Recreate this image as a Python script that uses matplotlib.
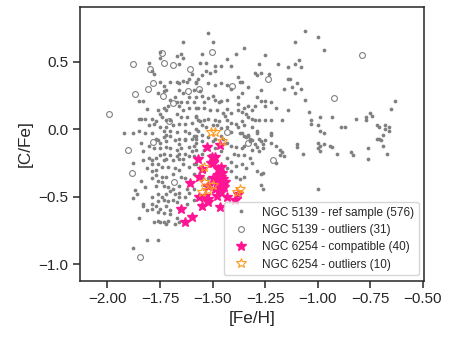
import matplotlib
matplotlib.use("Agg")
import matplotlib.pyplot as plt

plt.rcParams['font.family'] = ['Liberation Sans', 'DejaVu Sans']

# ---------------- data ----------------
ref_sample = [
    (-1.64,0.65),(-1.75,0.57),(-1.67,0.54),(-1.65,0.56),(-1.64,0.53),(-1.80,0.49),(-1.78,0.41),(-1.79,0.43),
    (-1.75,0.53),(-1.66,0.48),(-1.60,0.41),(-1.61,0.37),(-1.58,0.35),(-1.62,0.35),(-1.64,0.36),(-1.66,0.34),
    (-1.67,0.35),(-1.70,0.35),(-1.75,0.35),(-1.73,0.32),(-1.72,0.29),(-1.76,0.27),(-1.73,0.28),(-1.66,0.29),
    (-1.64,0.27),(-1.59,0.29),(-1.58,0.24),(-1.61,0.24),(-1.68,0.24),(-1.70,0.22),(-1.67,0.20),(-1.62,0.20),
    (-1.65,0.20),(-1.59,0.20),(-1.58,0.16),(-1.61,0.16),(-1.64,0.14),(-1.66,0.17),(-1.71,0.17),(-1.73,0.16),
    (-1.72,0.14),(-1.76,0.14),(-1.75,0.11),(-1.81,0.15),(-1.83,0.21),(-1.85,0.21),(-1.85,0.08),(-1.84,0.08),
    (-1.82,0.08),(-1.79,0.08),(-1.77,0.06),(-1.74,0.09),(-1.72,0.07),(-1.70,0.07),(-1.67,0.11),(-1.65,0.09),
    (-1.62,0.09),(-1.58,0.10),(-1.57,0.07),(-1.60,0.05),(-1.63,0.04),(-1.66,0.04),(-1.69,0.03),(-1.72,0.02),
    (-1.75,0.02),(-1.78,0.04),(-1.80,0.03),(-1.85,-0.01),(-1.92,-0.03),(-1.88,-0.03),(-1.82,-0.03),(-1.79,-0.03),
    (-1.73,-0.01),(-1.70,-0.01),(-1.67,-0.02),(-1.63,-0.01),(-1.61,-0.03),(-1.58,0.00),(-1.59,-0.05),(-1.63,-0.07),
    (-1.66,-0.07),(-1.70,-0.05),(-1.73,-0.06),(-1.77,-0.07),(-1.72,-0.04),
    (-1.52,0.71),(-1.06,0.73),(-1.50,0.65),(-1.11,0.65),(-1.35,0.60),(-1.39,0.56),(-1.55,0.56),(-1.25,0.55),
    (-1.43,0.52),(-1.56,0.49),(-1.53,0.49),(-1.46,0.47),(-1.49,0.47),(-1.41,0.47),(-1.28,0.48),(-1.19,0.48),
    (-1.14,0.46),(-1.11,0.48),(-1.09,0.51),(-1.08,0.46),(-1.53,0.43),(-1.51,0.42),(-1.49,0.43),(-1.38,0.39),
    (-1.37,0.35),(-1.36,0.35),(-1.30,0.42),(-1.29,0.40),(-1.27,0.42),(-1.23,0.41),(-1.14,0.37),(-1.13,0.37),
    (-1.10,0.34),(-1.55,0.40),(-1.57,0.37),(-1.58,0.34),(-1.52,0.34),(-1.49,0.33),(-1.46,0.34),(-1.43,0.33),
    (-1.41,0.30),(-1.16,0.30),(-1.12,0.31),(-1.08,0.30),(-1.11,0.27),(-1.27,0.29),(-1.29,0.24),(-1.27,0.21),
    (-1.25,0.21),(-1.33,0.31),(-1.36,0.27),(-1.38,0.24),(-1.56,0.28),(-1.55,0.25),(-1.50,0.25),(-1.52,0.23),
    (-1.49,0.22),(-1.54,0.20),(-1.47,0.20),(-1.46,0.21),(-1.43,0.22),(-1.38,0.19),(-1.35,0.16),(-1.33,0.17),
    (-1.31,0.14),(-1.30,0.17),(-1.22,0.20),(-1.20,0.16),(-1.14,0.14),(-1.06,0.22),(-1.04,0.13),(-1.25,0.17),
    (-1.54,0.16),(-1.57,0.16),(-1.51,0.14),(-1.48,0.14),(-1.45,0.12),(-1.43,0.15),(-1.41,0.12),(-1.38,0.14),
    (-1.36,0.13),(-1.34,0.11),(-1.33,0.09),(-1.31,0.08),(-1.30,0.07),(-1.28,0.07),(-1.25,0.07),(-1.22,0.07),
    (-1.17,0.07),(-1.03,0.07),(-1.03,0.04),(-1.58,0.09),(-1.56,0.06),(-1.54,0.07),(-1.52,0.08),(-1.49,0.07),
    (-1.47,0.06),(-1.44,0.10),(-1.43,0.07),(-1.41,0.05),(-1.39,0.04),(-1.36,0.06),(-1.35,0.03),(-1.31,0.02),
    (-1.29,-0.01),(-1.33,-0.04),(-1.36,-0.03),(-1.55,0.03),(-1.53,0.02),(-1.57,-0.01),(-1.50,0.03),(-1.48,0.03),
    (-1.46,0.01),(-1.43,0.02),(-1.41,-0.02),(-1.38,0.02),(-1.22,-0.03),(-1.58,-0.05),(-1.55,-0.04),(-1.46,-0.05),
    (-1.00,0.68),(-0.97,0.59),(-0.63,0.21),(-0.65,0.15),(-0.75,0.12),(-0.74,0.10),(-0.77,0.09),(-0.77,0.07),
    (-0.82,0.08),(-0.93,0.09),(-0.99,0.09),
    (-1.00,0.03),(-0.99,-0.01),(-0.97,-0.03),(-0.89,0.02),(-0.87,0.02),(-0.72,0.03),(-0.71,0.02),(-0.68,0.03),
    (-0.68,0.00),(-0.66,0.02),(-0.66,-0.01),(-0.69,-0.04),(-0.72,-0.07),(-0.71,-0.07),(-0.70,-0.08),(-1.00,-0.10),
    (-0.99,-0.12),(-0.97,-0.11),(-1.00,-0.14),(-0.99,-0.16),(-0.94,-0.12),(-0.93,-0.13),(-0.91,-0.18),(-0.84,-0.17),
    (-0.83,-0.19),(-0.76,-0.14),(-0.76,-0.22),(-0.69,-0.12),(-0.67,-0.18),(-1.00,-0.44),
    (-1.84,-0.10),(-1.80,-0.12),(-1.76,-0.08),(-1.75,-0.10),(-1.72,-0.09),(-1.68,-0.08),(-1.66,-0.11),(-1.63,-0.08),
    (-1.60,-0.07),(-1.58,-0.10),(-1.59,-0.12),(-1.61,-0.13),(-1.65,-0.14),(-1.67,-0.15),(-1.70,-0.14),(-1.72,-0.13),
    (-1.75,-0.14),(-1.78,-0.14),(-1.83,-0.16),(-1.73,-0.18),(-1.70,-0.19),(-1.67,-0.20),(-1.66,-0.18),(-1.63,-0.18),
    (-1.60,-0.16),(-1.58,-0.15),(-1.88,-0.25),(-1.83,-0.23),(-1.80,-0.21),(-1.79,-0.23),(-1.77,-0.21),(-1.75,-0.19),
    (-1.79,-0.26),(-1.76,-0.26),(-1.73,-0.23),(-1.72,-0.22),(-1.69,-0.23),(-1.66,-0.22),(-1.64,-0.22),(-1.61,-0.20),
    (-1.59,-0.20),(-1.64,-0.26),(-1.61,-0.28),(-1.59,-0.26),(-1.81,-0.29),(-1.79,-0.31),(-1.77,-0.30),(-1.74,-0.28),
    (-1.71,-0.28),(-1.68,-0.29),(-1.66,-0.30),(-1.77,-0.34),(-1.79,-0.36),(-1.74,-0.35),(-1.72,-0.35),(-1.69,-0.33),
    (-1.74,-0.39),(-1.76,-0.38),(-1.77,-0.42),(-1.73,-0.42),(-1.71,-0.43),(-1.69,-0.44),(-1.66,-0.42),(-1.65,-0.35),
    (-1.63,-0.36),(-1.59,-0.33),(-1.82,-0.43),(-1.84,-0.38),(-1.87,-0.45),(-1.86,-0.48),(-1.88,-0.51),(-1.83,-0.55),
    (-1.83,-0.57),(-1.79,-0.50),(-1.76,-0.48),(-1.74,-0.50),(-1.72,-0.48),(-1.70,-0.46),(-1.68,-0.48),(-1.66,-0.47),
    (-1.66,-0.50),(-1.63,-0.50),(-1.61,-0.47),(-1.59,-0.44),(-1.62,-0.44),(-1.76,-0.53),(-1.73,-0.52),(-1.71,-0.53),
    (-1.69,-0.52),(-1.67,-0.54),(-1.79,-0.55),(-1.77,-0.57),(-1.75,-0.59),(-1.72,-0.57),(-1.70,-0.60),(-1.73,-0.62),
    (-1.76,-0.61),(-1.79,-0.59),(-1.81,-0.60),(-1.66,-0.59),(-1.62,-0.55),(-1.59,-0.52),(-1.78,-0.69),(-1.76,-0.68),
    (-1.75,-0.69),(-1.73,-0.69),(-1.72,-0.70),(-1.71,-0.68),(-1.68,-0.70),(-1.66,-0.69),(-1.67,-0.66),(-1.70,-0.63),
    (-1.85,-0.66),(-1.81,-0.82),(-1.76,-0.82),(-1.88,-0.88),
    (-1.58,-0.07),(-1.55,-0.09),(-1.52,-0.06),(-1.50,-0.09),(-1.49,-0.07),(-1.45,-0.07),(-1.43,-0.10),(-1.41,-0.12),
    (-1.39,-0.13),(-1.36,-0.14),(-1.35,-0.12),(-1.32,-0.09),(-1.30,-0.11),(-1.27,-0.09),(-1.25,-0.08),(-1.22,-0.10),
    (-1.20,-0.12),(-1.31,-0.15),(-1.28,-0.16),(-1.26,-0.14),(-1.40,-0.18),(-1.38,-0.19),(-1.35,-0.19),(-1.32,-0.21),
    (-1.43,-0.21),(-1.41,-0.24),(-1.39,-0.27),(-1.36,-0.26),(-1.34,-0.29),(-1.31,-0.25),(-1.29,-0.31),(-1.27,-0.33),
    (-1.26,-0.32),(-1.35,-0.35),(-1.37,-0.37),(-1.39,-0.35),(-1.41,-0.31),(-1.43,-0.29),(-1.27,-0.41),(-1.26,-0.44),
    (-1.49,-0.14),(-1.46,-0.16),(-1.54,-0.15),(-1.51,-0.19),(-1.55,-0.18),(-1.57,-0.21),(-1.58,-0.26),(-1.56,-0.28),
    (-1.54,-0.31),(-1.55,-0.35),(-1.52,-0.36),(-1.54,-0.41),
    (-1.37,-0.03),(-1.35,-0.05),(-1.34,-0.06),(-1.33,-0.05),(-1.32,-0.07),(-1.31,-0.08),(-1.29,-0.03),(-1.28,-0.07),
    (-1.29,-0.13),(-1.26,-0.11),(-1.22,-0.04),(-1.20,-0.25),(-1.18,-0.19),(-1.17,-0.17),(-1.16,-0.20),(-1.18,-0.15),
    (-1.10,-0.11),(-1.10,-0.13),(-1.07,-0.18),
]
ref_outliers = [
    (-1.880,0.483),(-1.742,0.567),(-1.731,0.488),(-1.689,0.478),(-1.607,0.449),(-1.797,0.449),(-1.785,0.345),
    (-1.870,0.261),(-1.805,0.296),(-1.737,0.247),(-1.617,0.286),(-1.564,0.302),(-1.686,0.192),(-1.992,0.111),
    (-1.708,0.062),(-1.504,0.573),(-1.407,0.320),(-1.234,0.370),(-1.431,-0.022),(-0.789,0.547),(-0.922,0.232),
    (-1.903,-0.150),(-1.884,-0.326),(-1.781,-0.092),(-1.684,-0.392),(-1.843,-0.948),(-1.329,-0.103),(-1.212,-0.229),
]
ngc6254_compatible = [
    (-1.528,-0.128),(-1.465,-0.116),(-1.571,-0.222),(-1.504,-0.207),(-1.488,-0.207),(-1.507,-0.251),(-1.496,-0.246),
    (-1.549,-0.295),(-1.472,-0.295),(-1.564,-0.355),(-1.607,-0.399),(-1.472,-0.337),(-1.460,-0.350),(-1.449,-0.369),
    (-1.465,-0.387),(-1.480,-0.394),(-1.453,-0.404),(-1.469,-0.424),(-1.488,-0.443),(-1.444,-0.424),(-1.460,-0.461),
    (-1.520,-0.419),(-1.564,-0.502),(-1.536,-0.493),(-1.523,-0.517),(-1.480,-0.493),(-1.433,-0.502),(-1.393,-0.527),
    (-1.381,-0.478),(-1.549,-0.566),(-1.520,-0.542),(-1.465,-0.576),(-1.650,-0.591),(-1.596,-0.650),(-1.631,-0.690),
    (-1.476,-0.369),(-1.457,-0.320),(-1.441,-0.387),(-1.496,-0.362),(-1.460,-0.276),
]
ngc6254_outliers = [
    (-1.507,-0.017),(-1.488,-0.017),(-1.453,-0.084),(-1.539,-0.276),(-1.539,-0.387),
    (-1.552,-0.468),(-1.523,-0.453),(-1.496,-0.411),(-1.369,-0.443),(-1.385,-0.468),
]
labels = ["NGC 5139 - ref sample (576)", "NGC 5139 - outliers (31)",
          "NGC 6254 - compatible (40)", "NGC 6254 - outliers (10)"]
xticks = [-2.00, -1.75, -1.50, -1.25, -1.00, -0.75, -0.50]
yticks = [0.5, 0.0, -0.5, -1.0]

def xy(points):
    return [p[0] for p in points], [p[1] for p in points]

# ---------------- plot ----------------
dark = '#262626'
fig = plt.figure(figsize=(4.55, 3.38), dpi=100)
ax = fig.add_axes([0.176, 0.170, 0.756, 0.809])

x, y = xy(ref_sample)
ax.plot(x, y, 'o', ms=2.7, color='grey', mec='none', label=labels[0], zorder=2)
x, y = xy(ref_outliers)
ax.plot(x, y, 'o', ms=4.2, mfc='none', mec='grey', mew=0.8, label=labels[1], zorder=2)
x, y = xy(ngc6254_compatible)
ax.plot(x, y, '*', ms=7.2, color='#ff1493', mec='#ff1493', label=labels[2], zorder=3)
x, y = xy(ngc6254_outliers)
ax.plot(x, y, '*', ms=7.2, mfc='none', mec='#ff9a1f', mew=0.8, label=labels[3], zorder=4)

ax.set_xlim(-2.13, -0.494)
ax.set_ylim(-1.12, 0.905)
ax.set_xticks(xticks)
ax.set_xticklabels([f"{v:.2f}".replace('-', '\u2212') for v in xticks])
ax.set_yticks(yticks)
ax.set_yticklabels([f"{v:.1f}".replace('-', '\u2212') for v in yticks])

for s in ax.spines.values():
    s.set_color(dark)
    s.set_linewidth(1.1)
ax.tick_params(direction='out', length=5, width=1.1, color=dark, labelcolor=dark, labelsize=11)

ax.set_xlabel('[Fe/H]', fontsize=12.3, color=dark, labelpad=3)
ax.set_ylabel('[C/Fe]', fontsize=12.3, color=dark, labelpad=4)

leg = ax.legend(loc='lower right', fontsize=8.5, frameon=True, numpoints=1,
                borderaxespad=0.45, labelspacing=0.45)
leg.get_frame().set_edgecolor('#cccccc')
for t in leg.get_texts():
    t.set_color(dark)

fig.savefig('out.png', dpi=100)
